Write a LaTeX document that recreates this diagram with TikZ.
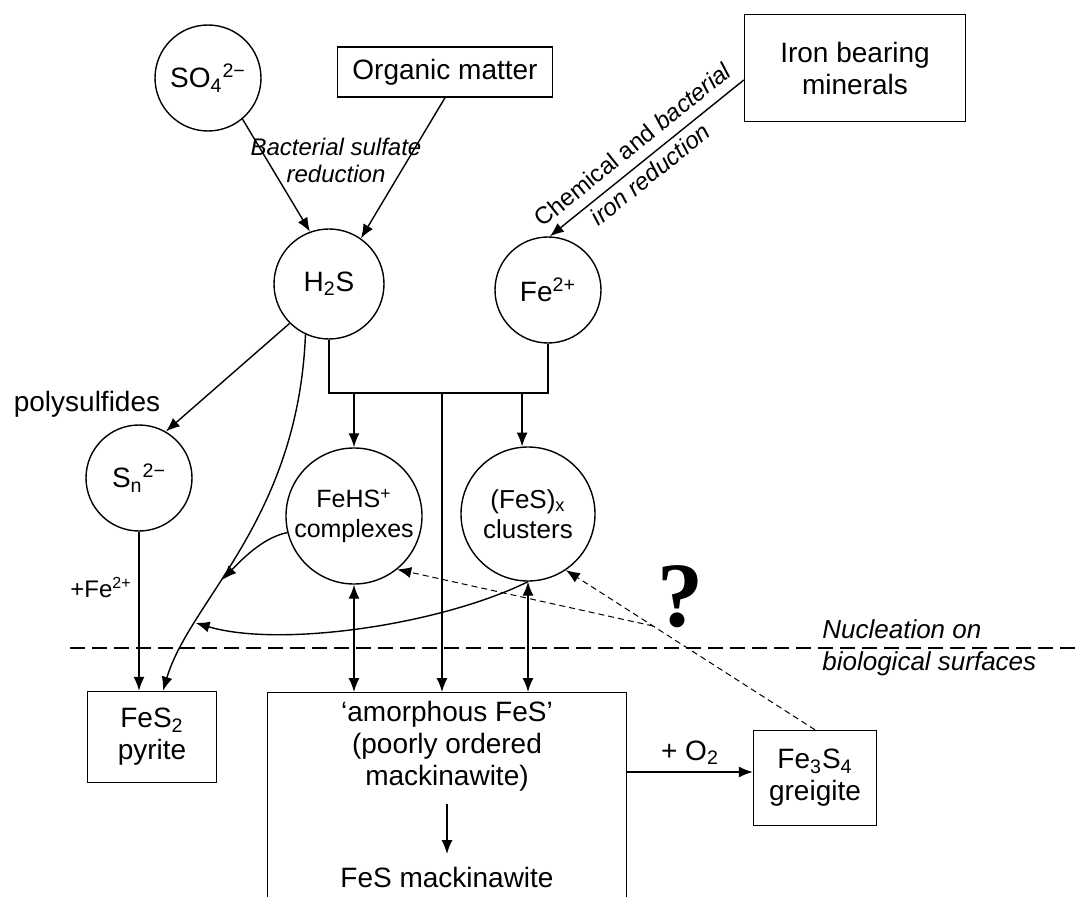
\documentclass[tikz,border=0pt]{standalone}
\usepackage{fontspec}
\setmainfont{Liberation Sans}
\newfontfamily\qfont{Liberation Serif}
\usetikzlibrary{arrows.meta, calc}

\begin{document}
\begin{tikzpicture}[x=0.5pt, y=-0.5pt, line width=0.7pt, >={Latex[length=7pt, width=5.5pt]},
        every node/.style={font=\fontsize{14}{16}\selectfont},
        spec/.style={circle, draw, inner sep=0pt, align=center},
        box/.style={rectangle, draw, align=center},
        lbl/.style={font=\fontsize{12}{13.5}\selectfont\itshape, align=center},
        dashlink/.style={dash pattern=on 3pt off 2pt, line width=0.5pt}]
            \useasboundingbox (0, 0) rectangle (1080, 897);
            \clip (0, 0) rectangle (1080, 897);

            \node[spec, minimum size=53pt] at (208, 78) (so) {SO\textsubscript{4}\textsuperscript{2−}};
            \node[box, minimum width=107.5pt, minimum height=25pt] at (445, 72) (org) {Organic matter};
            \node[box, minimum width=110.5pt, minimum height=53.5pt] at (855, 68) (iron) {Iron bearing\\minerals};
            \node[spec, minimum size=55pt] at (329, 284) (hs) {H\textsubscript{2}S};
            \node[spec, minimum size=53pt] at (548, 290) (fe) {Fe\textsuperscript{2+}};
            \node at (87, 404) (poly) {polysulfides};
            \node[spec, minimum size=53pt] at (139, 478) (sn) {S\textsubscript{n}\textsuperscript{2−}};
            \node[spec, minimum size=68pt, font=\fontsize{12.5}{15}\selectfont] at (354, 516) (fehs) {FeHS\textsuperscript{+}\\complexes};
            \node[spec, minimum size=67pt, font=\fontsize{13}{15}\selectfont] at (528, 514) (clu) {(FeS)\textsubscript{x}\\clusters};
            \node[box, minimum width=64.5pt, minimum height=45.5pt] at (152, 737) (pyr) {FeS\textsubscript{2}\\pyrite};
            \node[box, minimum width=61.5pt, minimum height=47.5pt] at (815, 778) (greig) {Fe\textsubscript{3}S\textsubscript{4}\\greigite};
            \node[box, anchor=north, minimum width=179.5pt, minimum height=140pt] at (447, 692) (amo) {};
            \node[align=center, inner sep=6pt] at (447, 746) (amotext) {`amorphous FeS'\\(poorly ordered\\mackinawite)};
            \node[inner sep=6pt] at (447, 877) (mack) {FeS mackinawite};
            \node[lbl] at (336, 160) (bsr) {Bacterial sulfate\\reduction};
            \node[font=\fontsize{13}{16}\selectfont\itshape, align=left, anchor=west] at (815, 648) (nuc) {Nucleation on\\biological surfaces};
            \node[font=\qfont\bfseries\fontsize{46}{46}\selectfont] at (680, 597) (qm) {?};

            % sources
            \draw [->] (so.-50) -- (hs.110);
            \draw [->] (org.south) -- (hs.55);
            \draw [<-] (fe.88) -- node[sloped, above, pos=0.49, inner sep=5pt, font=\fontsize{12}{14}\selectfont] {Chemical and \textit{bacterial}}
                node[sloped, below, pos=0.47, inner sep=2.5pt, font=\fontsize{12}{14}\selectfont\itshape] {iron reduction} ([yshift=-6pt]iron.west);

            % sulfur side
            \draw [->] (hs.-135) -- (sn.60);
            \draw [->] (hs.-115) .. controls (298, 520) and (190, 600) .. ([xshift=5.5pt]pyr.north) coordinate[pos=0.6] (ma) coordinate[pos=0.75] (mb);
            \draw [->] (sn.south) -- (sn |- pyr.north) node[pos=0.35, left, font=\fontsize{12}{14}\selectfont] (plusfe) {+Fe\textsuperscript{2+}};
            \draw [->] (fehs.-166) .. controls (265, 537) and (245, 556) .. (ma);
            \draw [->] (clu.south) .. controls (440, 625) and (280, 648) .. (mb);

            % Fe + S
            \coordinate (brk) at (442, 393);
            \draw (hs.south) |- (brk) -| (fe.south);
            \draw [->] (brk) -- (brk |- amo.north);
            \draw [->] (brk -| fehs.north) -- (fehs.north);
            \draw [->] (brk -| clu.95) -- (clu.95);
            \draw [<->] (fehs.south) -- (fehs.south |- amo.north);
            \draw [<->] (clu.south) -- (clu.south |- amo.north);
            \draw [->] (amotext) -- (mack);
            \draw [->] ([yshift=3pt]greig.west -| amo.east) -- ([yshift=3pt]greig.west) node[midway, above] (oxy) {+ O\textsubscript{2}};

            % dashed
            \draw [dashlink, ->] (greig.north) -- (clu.-56) coordinate[pos=0.65] (qs);
            \draw [dashlink, ->] (qs) -- (fehs.-51);
            \draw [dash pattern=on 7.5pt off 3.5pt, line width=1pt] (70, 648) -- (1080, 648);
        \end{tikzpicture}
\end{document}
